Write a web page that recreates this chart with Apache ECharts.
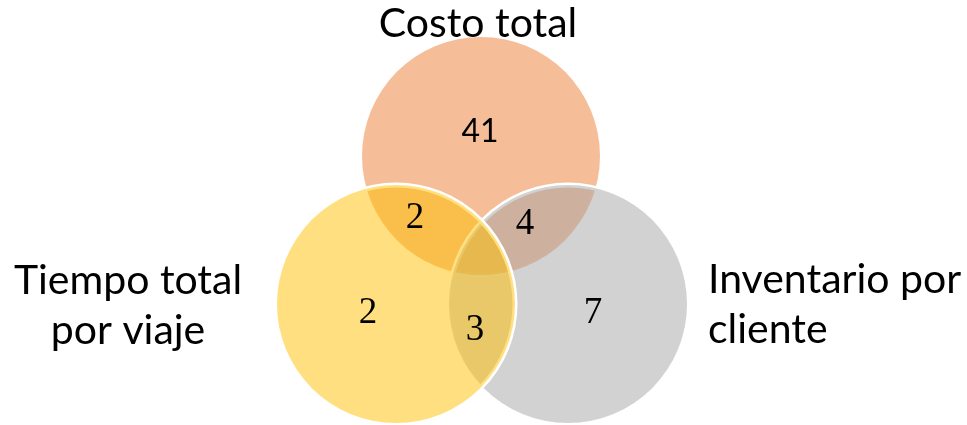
<!DOCTYPE html>
<html><head><meta charset="utf-8">
<script src="https://cdn.jsdelivr.net/npm/echarts@6/dist/echarts.min.js"></script>
<style>html,body{margin:0;padding:0;background:#fff}#c{width:967px;height:425px}</style>
</head><body><div id="c"></div>
<script>
// Sets (draw order: Costo, Inventario, Tiempo)
const setNames = ['Costo total', 'Inventario por\ncliente', 'Tiempo total\npor viaje'];
const setColors = ['rgba(237,125,49,0.5)', 'rgba(165,165,165,0.5)', 'rgba(255,192,0,0.5)'];
const circleX = [481, 568, 396];
const circleY = [156, 304, 304];
const circleR = [119, 119, 119];
// Set name label anchors
const nameX = [478, 708, 128];
const nameY = [24, 305, 306];
const nameAlign = ['center', 'left', 'center'];
// Region counts
const regionValues = [41, 2, 4, 2, 3, 7];
const regionX = [480, 415, 525, 368, 475, 593];
const regionY = [132, 218, 224, 313, 330, 313];
const regionSerif = [false, true, true, true, true, true];

const chart = echarts.init(document.getElementById('c'), null, {renderer: 'canvas'});

const circleData = circleX.map((x, i) => [x, circleY[i], circleR[i], i]);
const nameData = nameX.map((x, i) => [x, nameY[i], i]);
const regionData = regionValues.map((v, i) => [regionX[i], regionY[i], v, i]);

chart.setOption({
  animation: false,
  grid: {left: 0, right: 0, top: 0, bottom: 0},
  xAxis: {type: 'value', min: 0, max: 967, show: false},
  yAxis: {type: 'value', min: 0, max: 425, inverse: true, show: false},
  series: [
    {
      type: 'custom',
      data: circleData,
      renderItem: function (params, api) {
        const c = api.coord([api.value(0), api.value(1)]);
        const r = api.size([api.value(2), 0])[0];
        const i = api.value(3);
        return {
          type: 'circle',
          shape: {cx: c[0], cy: c[1], r: r},
          style: {
            fill: setColors[i],
            stroke: '#ffffff',
            lineWidth: 5,
            strokeFirst: true
          }
        };
      },
      silent: true,
      z: 1
    },
    {
      type: 'custom',
      data: nameData,
      renderItem: function (params, api) {
        const c = api.coord([api.value(0), api.value(1)]);
        const i = api.value(2);
        return {
          type: 'text',
          x: c[0], y: c[1],
          style: {
            text: setNames[i],
            fontFamily: 'Lato, "Open Sans", sans-serif',
            fontSize: 41,
            lineHeight: 50,
            align: nameAlign[i],
            verticalAlign: 'middle',
            fill: '#000'
          }
        };
      },
      silent: true,
      z: 3
    },
    {
      type: 'custom',
      data: regionData,
      renderItem: function (params, api) {
        const c = api.coord([api.value(0), api.value(1)]);
        const i = api.value(3);
        return {
          type: 'text',
          x: c[0], y: c[1],
          style: {
            text: String(api.value(2)),
            fontFamily: regionSerif[i] ? '"Liberation Serif", serif' : 'Lato, sans-serif',
            fontSize: regionSerif[i] ? 37 : 32,
            align: 'center',
            verticalAlign: 'middle',
            fill: '#000'
          }
        };
      },
      silent: true,
      z: 3
    }
  ]
});
</script>
</body></html>
